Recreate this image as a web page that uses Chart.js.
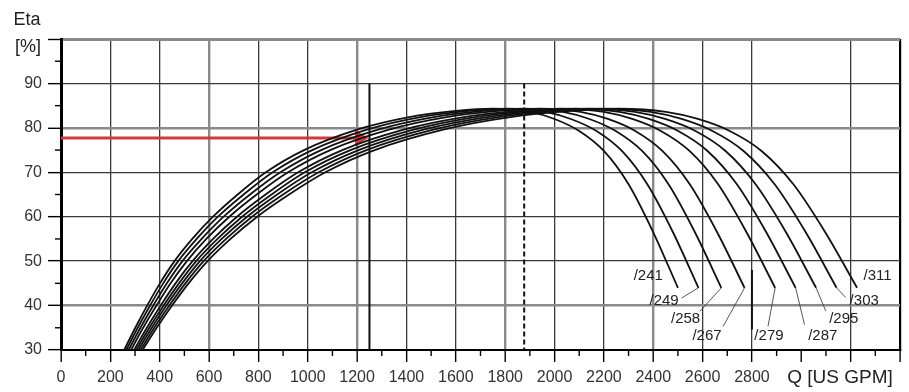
<!DOCTYPE html>
<html>
<head>
<meta charset="utf-8">
<script src="https://cdn.jsdelivr.net/npm/chart.js@4/dist/chart.umd.min.js"></script>
<style>
  html, body { margin: 0; padding: 0; background: #fff; }
  #wrap { width: 909px; height: 392px; }
</style>
</head>
<body>
<div id="wrap"><canvas id="etaChart"></canvas></div>
<script>
// efficiency levels shared by all impeller curves
const etaLevels = [29.0, 35.0, 40.0, 45.0, 50.0, 55.0, 60.0, 65.0, 70.0, 75.0, 79.6, 82.3, 83.8, 84.3, 83.6, 82.0, 79.3, 74.8, 67.3, 56.5, 44.0];

// flow (US GPM) at each level, one list per impeller diameter
const q241 = [247, 301, 349, 401, 460, 532, 616, 716, 830, 985, 1200, 1400, 1600, 1750, 1900, 2000, 2100, 2200, 2300, 2400, 2500];
const q249 = [255, 311, 361, 414, 475, 550, 636, 740, 858, 1018, 1240, 1446, 1653, 1808, 1963, 2066, 2170, 2273, 2376, 2480, 2583];
const q258 = [264, 322, 374, 429, 492, 570, 659, 766, 889, 1054, 1285, 1499, 1713, 1873, 2034, 2141, 2248, 2355, 2462, 2569, 2676];
const q267 = [274, 333, 387, 444, 510, 589, 682, 793, 920, 1091, 1329, 1551, 1773, 1939, 2105, 2216, 2327, 2437, 2548, 2659, 2770];
const q279 = [286, 348, 404, 464, 533, 616, 713, 829, 961, 1140, 1389, 1621, 1852, 2026, 2200, 2315, 2431, 2547, 2663, 2778, 2894];
const q287 = [294, 358, 416, 478, 548, 634, 734, 853, 988, 1173, 1429, 1667, 1905, 2084, 2263, 2382, 2501, 2620, 2739, 2858, 2977];
const q295 = [302, 368, 427, 491, 563, 651, 754, 876, 1016, 1206, 1469, 1714, 1959, 2142, 2326, 2448, 2571, 2693, 2815, 2938, 3060];
const q303 = [311, 378, 439, 504, 578, 669, 774, 900, 1044, 1238, 1509, 1760, 2012, 2200, 2389, 2515, 2640, 2766, 2892, 3018, 3143];
const q311 = [319, 388, 450, 517, 594, 687, 795, 924, 1071, 1271, 1549, 1807, 2065, 2258, 2452, 2581, 2710, 2839, 2968, 3097, 3226];

const diameters = ["/241", "/249", "/258", "/267", "/279", "/287", "/295", "/303", "/311"];
const curveFlows = [q241, q249, q258, q267, q279, q287, q295, q303, q311];

// where each diameter label sits
const labelQ   = [2380, 2444, 2531, 2618, 2869, 3087, 3172, 3255, 3309];
const labelEta = [46.6, 41.0, 37.1, 33.1, 33.1, 33.1, 37.0, 41.0, 46.6];
// leader line end points (null = no leader)
const leaderQ   = [null, 2515, 2589, 2683, 2865, 3013, 3099, 3180, null];
const leaderEta = [null, 41.7, 38.7, 35.3, 35.3, 35.7, 38.8, 41.8, null];

// operating point
const dutyEta = 77.7;
const dutyQ = 1250;
const bepQ = 1877;
const markerTop = 90;
const maxFlowQ = 2800;
const maxFlowEta = [48, 34.6];

const xLabels = [0, 200, 400, 600, 800, 1000, 1200, 1400, 1600, 1800, 2000, 2200, 2400, 2600, 2800];
const yLabels = [30, 40, 50, 60, 70, 80, 90];

const FONT = '"Liberation Sans", Arial, sans-serif';
const ctx = document.getElementById("etaChart").getContext("2d");

const datasets = [];

curveFlows.forEach((qs, i) => {
  datasets.push({
    label: diameters[i],
    data: etaLevels.map((e, k) => ({ x: qs[k], y: e })),
    borderColor: "#111",
    borderWidth: 1.8,
    pointRadius: 0,
    cubicInterpolationMode: "monotone",
  });
  if (leaderQ[i] !== null) {
    datasets.push({
      data: [
        { x: qs[qs.length - 1], y: etaLevels[etaLevels.length - 1] },
        { x: leaderQ[i], y: leaderEta[i] },
      ],
      borderColor: "#444",
      borderWidth: 0.9,
      pointRadius: 0,
    });
  }
});

// vertical marker lines
datasets.push({
  data: [{ x: dutyQ, y: markerTop }, { x: dutyQ, y: 30 }],
  borderColor: "#111",
  borderWidth: 2,
  pointRadius: 0,
});
datasets.push({
  data: [{ x: bepQ, y: markerTop }, { x: bepQ, y: 30 }],
  borderColor: "#111",
  borderWidth: 2,
  borderDash: [5, 3],
  pointRadius: 0,
});
datasets.push({
  data: [{ x: maxFlowQ, y: maxFlowEta[0] }, { x: maxFlowQ, y: maxFlowEta[1] }],
  borderColor: "#111",
  borderWidth: 2,
  pointRadius: 0,
});

// red arrow to the operating point
datasets.push({
  data: [{ x: 0, y: dutyEta }, { x: dutyQ - 40, y: dutyEta }],
  borderColor: "#d03a3a",
  backgroundColor: "#d03a3a",
  borderWidth: 3,
  pointStyle: "triangle",
  pointRotation: 90,
  pointRadius: [0, 9],
  pointBorderWidth: 0,
});

const decor = {
  id: "decor",
  afterDraw(chart) {
    const { ctx, chartArea, scales } = chart;
    const x = scales.x;
    const y = scales.y;
    ctx.save();
    ctx.strokeStyle = "#000";
    ctx.lineWidth = 1.4;
    // minor tick marks
    x.ticks.forEach((t) => {
      if (t.value % 200 !== 0) {
        const px = x.getPixelForValue(t.value);
        ctx.beginPath();
        ctx.moveTo(px, chartArea.bottom);
        ctx.lineTo(px, chartArea.bottom + 6);
        ctx.stroke();
      }
    });
    y.ticks.forEach((t) => {
      if (t.value % 10 !== 0) {
        const py = y.getPixelForValue(t.value);
        ctx.beginPath();
        ctx.moveTo(chartArea.left - 6, py);
        ctx.lineTo(chartArea.left, py);
        ctx.stroke();
      }
    });

    // diameter labels
    ctx.fillStyle = "#222";
    ctx.font = "15px " + FONT;
    ctx.textAlign = "center";
    ctx.textBaseline = "middle";
    diameters.forEach((d, i) => {
      ctx.fillText(d, x.getPixelForValue(labelQ[i]), y.getPixelForValue(labelEta[i]));
    });

    // axis titles
    ctx.font = "18px " + FONT;
    ctx.fillText("Eta", chartArea.left - 34, 20);
    ctx.fillText("[%]", chartArea.left - 33, chartArea.top + 8);
    ctx.font = "19px " + FONT;
    ctx.fillText("Q [US GPM]", chartArea.right - 60, chartArea.bottom + 28);
    ctx.restore();
  },
};

new Chart(ctx, {
  type: "scatter",
  data: { datasets: datasets },
  options: {
    responsive: true,
    maintainAspectRatio: false,
    animation: false,
    showLine: true,
    layout: { padding: { top: 39, right: 6, left: 0, bottom: 0 } },
    plugins: {
      legend: { display: false },
      tooltip: { enabled: false },
    },
    scales: {
      x: {
        type: "linear",
        min: 0,
        max: 3400,
        afterFit: (s) => { s.height = 42; },
        border: { color: "#000", width: 2 },
        grid: {
          color: (c) => {
            const v = c.tick.value;
            if (v % 200 !== 0 || v === 3000) return "rgba(0,0,0,0)";
            if (v === 0 || v === 3400) return "#000";
            if (v % 600 === 0) return "#8a8a8a";
            return "#3a3a3a";
          },
          lineWidth: (c) => {
            const v = c.tick.value;
            if (v === 3400) return 2.2;
            if (v % 600 === 0) return 2.4;
            return 1.3;
          },
          tickColor: (c) => (c.tick.value % 200 === 0 ? "#000" : "rgba(0,0,0,0)"),
          tickWidth: 1.4,
          tickLength: 12,
        },
        ticks: {
          stepSize: 100,
          autoSkip: false,
          maxRotation: 0,
          padding: 6,
          color: "#333",
          font: { family: FONT, size: 16 },
          callback: (v) => (xLabels.includes(v) ? String(v) : ""),
        },
      },
      y: {
        type: "linear",
        min: 30,
        max: 100,
        afterFit: (s) => { s.width = 61; },
        border: { color: "#000", width: 3 },
        grid: {
          color: (c) => {
            const v = c.tick.value;
            if (v % 10 !== 0) return "rgba(0,0,0,0)";
            if (v === 30) return "#000";
            if (v === 100 || v === 40 || v === 80) return "#8a8a8a";
            return "#3a3a3a";
          },
          lineWidth: (c) => {
            const v = c.tick.value;
            if (v === 100) return 3;
            if (v === 40 || v === 80) return 2.6;
            return 1.3;
          },
          tickColor: (c) => (c.tick.value % 10 === 0 ? "#000" : "rgba(0,0,0,0)"),
          tickWidth: 1.4,
          tickLength: 13,
        },
        ticks: {
          stepSize: 5,
          autoSkip: false,
          padding: 6,
          color: "#333",
          font: { family: FONT, size: 16 },
          callback: (v) => (yLabels.includes(v) ? String(v) : ""),
        },
      },
    },
  },
  plugins: [decor],
});
</script>
</body>
</html>
